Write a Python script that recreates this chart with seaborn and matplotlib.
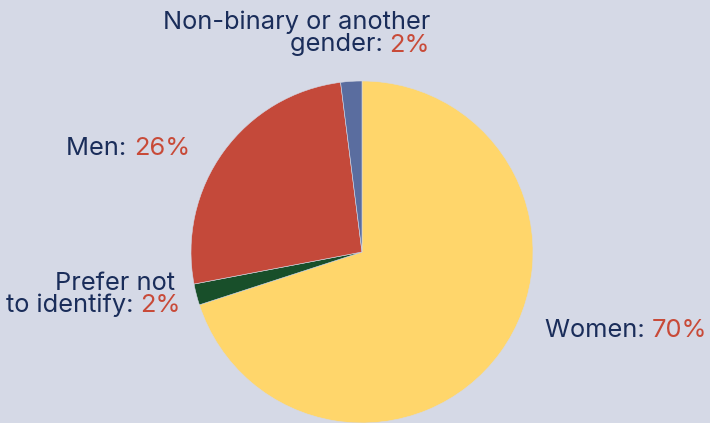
import matplotlib
matplotlib.use("Agg")
import matplotlib.pyplot as plt
import seaborn as sns

categories = ["Women", "Prefer not to identify", "Men", "Non-binary or another gender"]
values = [70, 2, 26, 2]
label_names = ["Women: ", "Prefer not\nto identify: ", "Men: ", "Non-binary or another\ngender: "]
pct_labels = ["70%", "2%", "26%", "2%"]
colors = ["#FFD66B", "#184F2A", "#C4493A", "#5A6D9F"]

sns.set_theme(style="white")
plt.rcParams["font.family"] = ["Inter", "DejaVu Sans"]

BG = "#D5D9E6"
NAVY = "#1A2D5A"
RED = "#C84A38"

W, H = 710, 423
fig = plt.figure(figsize=(W / 100, H / 100), dpi=100, facecolor=BG)
ax = fig.add_axes([0, 0, 1, 1])
ax.set_facecolor(BG)

cx, cy, r = 362, 252, 171
ax.pie(values, colors=colors, startangle=90, counterclock=False,
       wedgeprops=dict(edgecolor=BG, linewidth=0.4))
ax.set_aspect("auto")
ax.set_xlim(-cx / r, (W - cx) / r)
ax.set_ylim((cy - H) / r, cy / r)
ax.axis("off")

fs = 18.3
renderer = fig.canvas.get_renderer()

def fx(px):
    return px / W

def fy(py):
    return 1 - py / H

def right_label(name, pct, xr, ylast):
    t = fig.text(fx(xr), fy(ylast), pct, color=RED, fontsize=fs, ha="right", va="center")
    bb = t.get_window_extent(renderer)
    lines = name.split("\n")
    fig.text(bb.x0 / W, fy(ylast), lines[-1], color=NAVY, fontsize=fs, ha="right", va="center")
    return lines

# Non-binary (two lines, right edge ~430)
lines = right_label(label_names[3], pct_labels[3], 430, 45)
fig.text(fx(430), fy(22), lines[0], color=NAVY, fontsize=fs, ha="right", va="center")

# Men
right_label(label_names[2], pct_labels[2], 190, 148)

# Prefer not to identify
lines = right_label(label_names[1], pct_labels[1], 181, 305)
fig.text(fx(175), fy(283), lines[0], color=NAVY, fontsize=fs, ha="right", va="center")

# Women
t = fig.text(fx(545), fy(330), label_names[0], color=NAVY, fontsize=fs, ha="left", va="center")
bb = t.get_window_extent(renderer)
fig.text(bb.x1 / W, fy(330), pct_labels[0], color=RED, fontsize=fs, ha="left", va="center")

fig.savefig("out.png", dpi=100, facecolor=BG)
